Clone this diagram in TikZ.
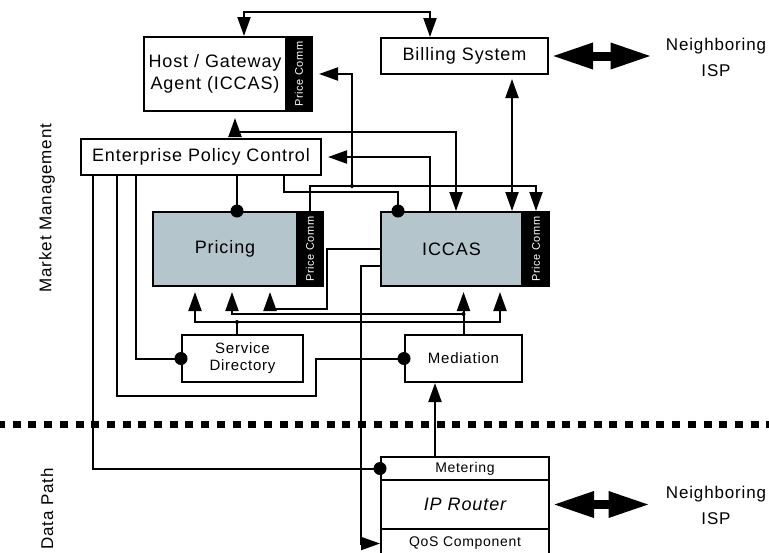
\documentclass[tikz,border=0pt]{standalone}
\usepackage{fontspec}
\setmainfont{Liberation Sans}[LetterSpace=5]
\usetikzlibrary{arrows.meta}

\definecolor{boxgrey}{RGB}{180,198,204}

\tikzset{
  box/.style={draw, line width=1pt, fill=white, inner sep=0pt, align=center,
    font=\fontsize{9}{11}\selectfont},
  greybox/.style={box, fill=boxgrey},
  pcstrip/.style={draw, fill=black, line width=1pt, text=white, inner sep=0pt,
    minimum width=13pt, minimum height=37pt, font=\fontsize{5.5}{6.5}\selectfont},
  wire/.style={line width=1pt},
  bigarr/.style={line width=4.5pt,
    {Triangle[length=21pt,width=12pt]}-{Triangle[length=21pt,width=12pt]}},
  isp/.style={align=center, inner sep=0pt, font=\fontsize{8.5}{13}\selectfont},
  side/.style={rotate=90, inner sep=0pt, font=\fontsize{8.5}{10}\selectfont},
}

\begin{document}
\begin{tikzpicture}[x=0.5pt, y=-0.5pt, >={Triangle[length=9.5pt,width=6.5pt]}]
  \useasboundingbox (0,0) rectangle (769,552);

  % Market management boxes
  \node[box, minimum width=71pt, minimum height=37pt] (host) at (215,74) {Host / Gateway\\Agent (ICCAS)};
  \node[pcstrip] (hostpc) at (299,74) {\rotatebox{90}{Price Comm}};
  \node[box, minimum width=83.5pt, minimum height=18pt] (bill) at (464.5,56) {Billing System};
  \node[box, minimum width=120pt, minimum height=18pt] (epc) at (201,157) {Enterprise Policy Control};
  \node[greybox, minimum width=72pt, minimum height=37pt] (pricing) at (225,249) {Pricing};
  \node[pcstrip] (pricepc) at (310,249) {\rotatebox{90}{Price Comm}};
  \node[greybox, minimum width=70.5pt, minimum height=37pt] (iccas) at (451.5,249) {ICCAS};
  \node[pcstrip] (iccaspc) at (536,249) {\rotatebox{90}{Price Comm}};
  \node[box, font=\fontsize{7.5}{8.5}\selectfont, minimum width=60.5pt, minimum height=23.5pt] (sd) at (242.5,358.5) {Service\\Directory};
  \node[box, font=\fontsize{7.5}{8.5}\selectfont, minimum width=58.5pt, minimum height=23.5pt] (med) at (463.5,358.5) {Mediation};

  % Data path: the router
  \node[box, font=\fontsize{7}{8}\selectfont, minimum width=84pt, minimum height=11.5pt] (metering) at (465,468.5) {Metering};
  \node[box, font=\fontsize{9}{11}\selectfont\itshape, minimum width=84pt, minimum height=24.5pt] (iprouter) at (465,504.5) {IP Router};
  \node[box, font=\fontsize{7}{8}\selectfont, minimum width=84pt, minimum height=14.5pt] (qos) at (465,543.5) {QoS Component};

  % Neighbours and side labels
  \node[isp] (isptop) at (716,57) {Neighboring\\ISP};
  \node[isp] (ispbot) at (716,505) {Neighboring\\ISP};
  \node[side] (mm) at (47,208) {Market Management};
  \node[side] (dp) at (47,509) {Data Path};

  % Separator
  \draw[line width=3.5pt, dash pattern=on 4pt off 3.85pt, dash phase=1.5pt] (0,424) -- (769,424);

  % Junctions
  \coordinate (pcjoin) at (352,186);
  \coordinate (sdjoin) at (237,322);
  \coordinate (medjoin) at (463.5,314);

  % Connectors
  \draw[wire, <->] ([xshift=14.5pt]host.north) |- (300,12) -| ([xshift=-17.25pt]bill.north);
  \draw[wire, <->, shorten <=3pt] ([xshift=10pt]host.south) |- (350,132) -| ([xshift=2.25pt]iccas.north);
  \draw[wire, ->] (pricepc.north) |- (400,186) -| (iccaspc.north);
  \draw[wire, ->, shorten >=3pt] (pcjoin) |- (hostpc.east);
  \draw[wire, ->, shorten >=3pt] ([xshift=-10.75pt]iccas.north) |- (epc.east);
  \draw[wire] ([xshift=41.5pt]epc.south) |- (350,192) -| ([xshift=-26.75pt]iccas.north);
  \draw[wire] ([xshift=18pt]epc.south) -- ([xshift=6pt]pricing.north);
  \draw[wire, <->, shorten <=2pt] ([xshift=23.75pt]bill.south) -- ([xshift=30.25pt]iccas.north);
  \draw[wire] ([xshift=-54pt]epc.south) |- (metering.west);
  \draw[wire] ([xshift=-42pt]epc.south) |- (316,396) |- (med.west);
  \draw[wire] ([xshift=-32.5pt]epc.south) |- (sd.west);
  \draw[wire] ([xshift=-2.75pt]sd.north) -- (sdjoin);
  \draw[wire, ->, shorten >=2.5pt] (sdjoin) -| ([xshift=-15pt]pricing.south);
  \draw[wire, ->, shorten >=2.5pt] (sdjoin) -| ([xshift=24.25pt]iccas.south);
  \draw[wire, ->, shorten >=2.5pt] (med.north) -- (med.north |- iccas.south);
  \draw[wire, ->, shorten >=2.5pt] (medjoin) -| ([xshift=3.5pt]pricing.south);
  \draw[wire, ->, shorten >=2.5pt] (iccas.west) -| (327,309) -| ([xshift=22.5pt]pricing.south);
  \draw[wire, ->] ([yshift=-8.5pt]iccas.west) -| (361,400) |- (qos.west);
  \draw[wire, ->] ([xshift=-15pt]metering.north) -- ([xshift=-14.25pt]med.south);

  % Links to the neighbouring ISP
  \draw[bigarr, shorten <=1pt, shorten >=6.5pt] (bill.east) -- (bill.east -| isptop.west);
  \draw[bigarr, shorten <=1pt, shorten >=7.5pt] (iprouter.east) -- (iprouter.east -| ispbot.west);

  % Dots
  \fill ([xshift=6pt]pricing.north) circle (3.25pt);
  \fill ([xshift=-26.75pt]iccas.north) circle (3.25pt);
  \fill (sd.west) circle (3.25pt);
  \fill (med.west) circle (3.25pt);
  \fill (metering.west) circle (3.25pt);
  \fill (pcjoin) circle (1pt);
  \fill (sdjoin) circle (1pt);
  \fill (medjoin) circle (1pt);
\end{tikzpicture}
\end{document}
